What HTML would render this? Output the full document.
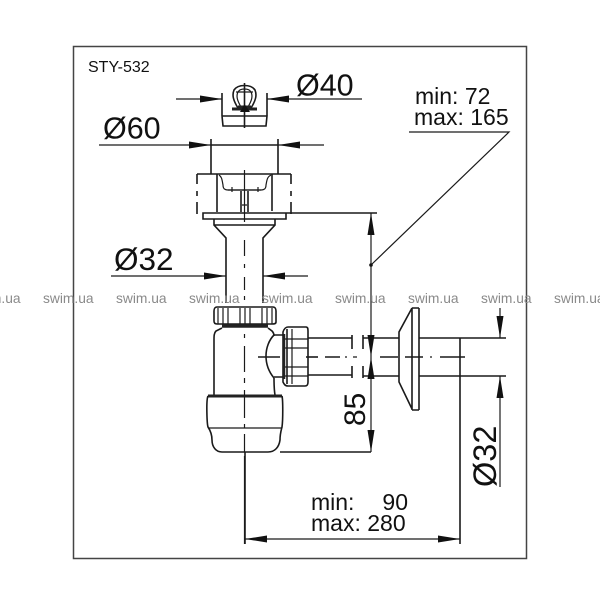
<!DOCTYPE html>
<html>
<head>
<meta charset="utf-8">
<style>
html,body{margin:0;padding:0;background:#fff;width:600px;height:600px;overflow:hidden}
svg{display:block}
text{font-family:"Liberation Sans",sans-serif;fill:#111}
.w{font-size:13.8px;fill:#8a8a8a}
.l{fill:none;stroke:#1a1a1a;stroke-width:1.2}
.t{fill:none;stroke:#1a1a1a;stroke-width:1.6}
.a{fill:#111;stroke:none}
</style>
</head>
<body>
<svg width="600" height="600" viewBox="0 0 600 600" xmlns="http://www.w3.org/2000/svg">
<rect width="600" height="600" fill="#fff"/>
<rect x="73.500" y="46.500" width="453" height="512" fill="none" stroke="#444" stroke-width="1.500"/>
<text x="88" y="72" style="font-size:16px">STY-532</text>

<!-- Ø40 -->
<path class="l" d="M176 99H222M267 99H362"/>
<path class="a" d="M222 99l-22-3.500v7zM267 99l22-3.500v7z"/>
<path class="t" d="M222 93V116M267 93V116M222 116H267L266 126H223L222 116M244.500 83V128"/>
<path class="t" d="M238 108C233 100 232 95 234 90C238 84 251 84 255 90C257 95 256 100 251 108"/>
<path class="l" d="M241 107C237 100 236 96 238 92C240 88 249 88 251 92C253 96 252 100 248 107M236 92H253"/>
<path d="M232 109H257M238 107H251" stroke="#222" stroke-width="3" fill="none"/>
<path class="a" d="M240 112L244.500 104L250 112Z"/>
<text x="296" y="95.500" style="font-size:30.500px">Ø40</text>

<!-- Ø60 -->
<path class="l" d="M99 145H211M278 145H324"/>
<path class="a" d="M211 145l-22-3.500v7zM278 145l22-3.500v7z"/>
<path class="t" d="M211 139V174M278 139V174M211 145H278"/>
<text x="103" y="138.500" style="font-size:30.500px">Ø60</text>

<!-- Strainer body -->
<path class="t" d="M197 174H291M217 174V212M272 174V211"/>
<path class="t" d="M197 174V184M197 191V196M197 202V214M291 174V184M291 191V196M291 202V214"/>
<path class="l" d="M219 175C222 177 222 180 223 185C223 189 225 190 228 190H261C264 190 266 189 266 185C267 180 267 177 271 175"/>
<path class="l" d="M228 190H261M232 187V192M258 187V192"/>
<path class="t" d="M241 191V212M248 191V212"/>
<path class="l" d="M242 205H247M244.500 170V222"/>
<path class="t" d="M203 213H286V219H203ZM286 213H377"/>
<path class="t" d="M214 219V225L226 238V303M275 219V225L263 238V303M214 225H275"/>
<path class="l" d="M244.500 240V256M244.500 264V268M244.500 277V290M244.500 296V300"/>

<!-- Ø32 top -->
<path class="l" d="M111 276H226M263 276H308"/>
<path class="a" d="M226 276l-22-3.500v7zM263 276l22-3.500v7z"/>
<text x="114" y="270" style="font-size:31.500px">Ø32</text>

<!-- Trap top nut -->
<path class="t" d="M217 307H273C275 307 276 309 276 311V322C276 324 274 324 272 324H217C215 324 214 323 214 321V311C214 309 215 307 217 307Z"/>
<path class="l" d="M218 308V324M223 308V324M228 308V324M240 308V324M245 308V324M250 308V324M262 308V324M267 308V324M272 308V324"/>
<path d="M222 326H268" stroke="#222" stroke-width="3.500" fill="none"/>
<!-- Trap body -->
<path class="t" d="M222 328L216 331C214 333 214 336 214 340V395M268 328L272 331C274 333 274 335 274 336M274 378C274 384 274 389 275 395"/>
<path class="t" d="M274 335C269 340 266 348 266 356C266 364 269 372 274 378"/>
<path class="t" d="M274 335H283M274 377H283"/>
<path d="M208 396H282" stroke="#222" stroke-width="3" fill="none"/>
<path class="t" d="M208 396C206 400 207 424 208 427C210 430 212 434 212 440C212 447 216 452 222 452H268C275 452 279 447 280 440C280 434 281 431 282 427C283 420 283 400 282 396"/>
<path class="l" d="M208 428H282"/>
<path class="l" d="M244.500 334V338M244.500 346V372M244.500 378V383M244.500 390V418M244.500 424V428M244.500 434V452M244.500 456V544"/>
<path class="t" d="M258 357H280"/>

<!-- Side nut -->
<path class="t" d="M288 327H306C308 327 308 329 308 331V382C308 385 307 386 305 386H288C285 386 284 384 283 382V332C284 329 286 327 288 327Z"/>
<path class="t" d="M287 329V384"/>
<path class="l" d="M292 329V384M284 339H308M284 348H308M284 367H308M284 376H308"/>
<path d="M284 334V379" stroke="#222" stroke-width="2.500" fill="none"/>
<path class="t" d="M306 357H318"/>

<!-- Horizontal pipe -->
<path class="t" d="M308 338H352M308 375H352M352 335V349M352 366V378M363 335V349M363 366V378M363 338H399M363 376H399"/>
<path class="t" d="M419 338H506M419 376H506"/>
<path class="t" d="M325 357H340M380 357H398M405 357H423M440 357H465"/>
<path class="l" d="M345 357H347M353 357H357M430 357H432"/>
<!-- Wall flange -->
<path class="t" d="M412 308L399 332V382L412 409M412 308V410M419 308V410M412 308H419M412 410H419"/>
<!-- Extension -->
<path class="t" d="M460 338V544"/>
<path class="t" d="M245 452V544M280 452H371"/>

<!-- 85 dimension / vertical -->
<path class="l" d="M371 213V452"/>
<path class="a" d="M371 213l-3.500 22h7zM371 357l-3.500-22h7zM371 357l-3.500 22h7zM371 452l-3.500-22h7z"/>
<text transform="translate(365,426) rotate(-90)" style="font-size:30px">85</text>

<!-- Ø32 right -->
<path class="l" d="M500 308V338M500 376V487"/>
<path class="a" d="M500 338l-3.500-22h7zM500 376l-3.500 22h7z"/>
<text transform="translate(496,487) rotate(-90)" style="font-size:32.500px">Ø32</text>

<!-- min/max 72/165 -->
<text x="415" y="104" style="font-size:23px">min: 72</text>
<text x="414" y="125" style="font-size:23px">max: 165</text>
<path class="l" d="M409 133H509L371 266" transform="translate(0,-1)"/>
<circle cx="371" cy="265" r="1.800" fill="#111"/>

<!-- min/max 90/280 -->
<text x="311" y="510" style="font-size:23px">min:</text>
<text x="408" y="510" text-anchor="end" style="font-size:23px">90</text>
<text x="311" y="531" style="font-size:23px">max: 280</text>
<path class="l" d="M245 539H460"/>
<path class="a" d="M245 539l22-3.500v7zM460 539l-22-3.500v7z"/>

<!-- Watermark -->
<g>
<text class="w" x="-30" y="303">swim.ua</text>
<text class="w" x="43" y="303">swim.ua</text>
<text class="w" x="116" y="303">swim.ua</text>
<text class="w" x="189" y="303">swim.ua</text>
<text class="w" x="262" y="303">swim.ua</text>
<text class="w" x="335" y="303">swim.ua</text>
<text class="w" x="408" y="303">swim.ua</text>
<text class="w" x="481" y="303">swim.ua</text>
<text class="w" x="554" y="303">swim.ua</text>
</g>
</svg>
</body>
</html>
